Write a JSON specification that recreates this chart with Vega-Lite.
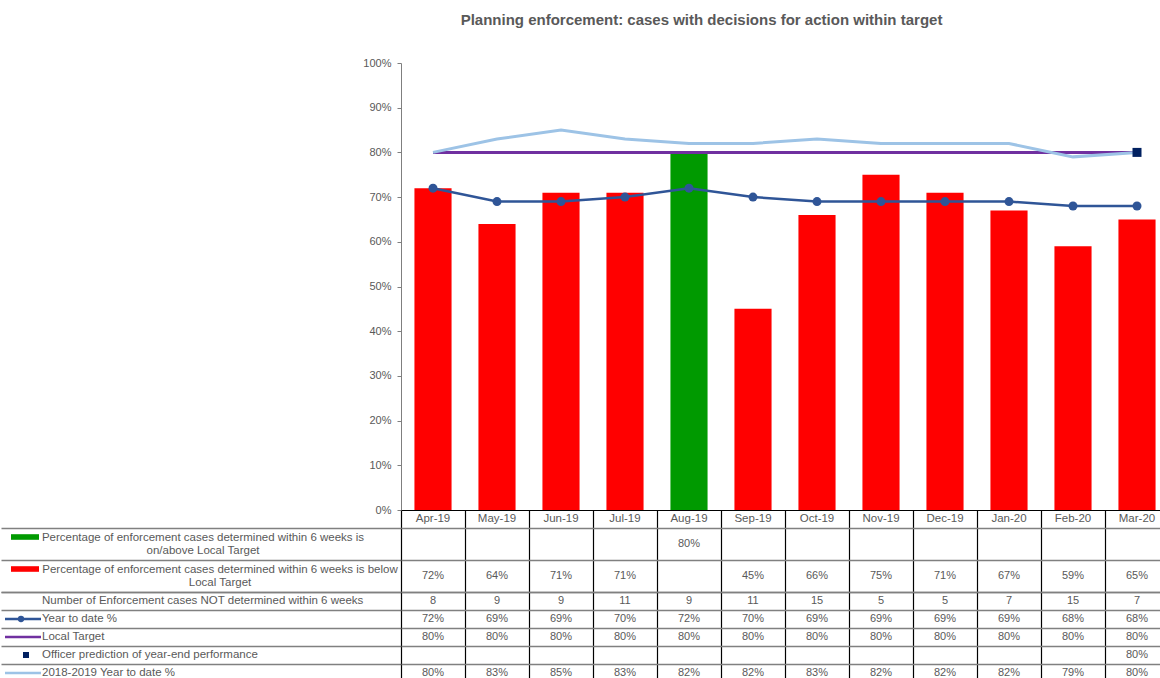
{
  "$schema": "https://vega.github.io/schema/vega-lite/v6.json",
  "padding": {"top": 13, "left": 0, "right": 0, "bottom": 0},
  "background": "white",
  "title": {
    "text": "Planning enforcement: cases with decisions for action within target",
    "fontSize": 15, "fontWeight": "bold", "color": "#595959", "font": "Liberation Sans",
    "anchor": "middle", "dx": 117, "offset": 29
  },
  "config": {
    "view": {"stroke": null},
    "font": "Liberation Sans",
    "text": {"font": "Liberation Sans"}
  },
  "datasets": {
    "months": [
      {"month": "Apr-19", "red": 0.72, "green": null, "nd": 8, "ytd": 0.72, "target": 0.8, "pred": null, "prev": 0.80},
      {"month": "May-19", "red": 0.64, "green": null, "nd": 9, "ytd": 0.69, "target": 0.8, "pred": null, "prev": 0.83},
      {"month": "Jun-19", "red": 0.71, "green": null, "nd": 9, "ytd": 0.69, "target": 0.8, "pred": null, "prev": 0.85},
      {"month": "Jul-19", "red": 0.71, "green": null, "nd": 11, "ytd": 0.70, "target": 0.8, "pred": null, "prev": 0.83},
      {"month": "Aug-19", "red": null, "green": 0.80, "nd": 9, "ytd": 0.72, "target": 0.8, "pred": null, "prev": 0.82},
      {"month": "Sep-19", "red": 0.45, "green": null, "nd": 11, "ytd": 0.70, "target": 0.8, "pred": null, "prev": 0.82},
      {"month": "Oct-19", "red": 0.66, "green": null, "nd": 15, "ytd": 0.69, "target": 0.8, "pred": null, "prev": 0.83},
      {"month": "Nov-19", "red": 0.75, "green": null, "nd": 5, "ytd": 0.69, "target": 0.8, "pred": null, "prev": 0.82},
      {"month": "Dec-19", "red": 0.71, "green": null, "nd": 5, "ytd": 0.69, "target": 0.8, "pred": null, "prev": 0.82},
      {"month": "Jan-20", "red": 0.67, "green": null, "nd": 7, "ytd": 0.69, "target": 0.8, "pred": null, "prev": 0.82},
      {"month": "Feb-20", "red": 0.59, "green": null, "nd": 15, "ytd": 0.68, "target": 0.8, "pred": null, "prev": 0.79},
      {"month": "Mar-20", "red": 0.65, "green": null, "nd": 7, "ytd": 0.68, "target": 0.8, "pred": 0.80, "prev": 0.80}
    ],
    "rowsA": [
      {"row": "green", "label": "Percentage of enforcement cases determined within 6 weeks is\non/above Local Target"},
      {"row": "red", "label": "Percentage of enforcement cases determined within 6 weeks is below\nLocal Target"}
    ],
    "rowsB": [
      {"row": "nd", "label": "Number of Enforcement cases NOT determined within 6 weeks"},
      {"row": "ytd", "label": "Year to date %"},
      {"row": "target", "label": "Local Target"},
      {"row": "pred", "label": "Officer prediction of year-end performance"},
      {"row": "prev", "label": "2018-2019 Year to date %"}
    ]
  },
  "bounds": "flush",
  "spacing": 0,
  "columns": 2,
  "concat": [
    {
      "width": 400, "height": 447,
      "data": {"values": [{}]},
      "mark": {"type": "text", "text": ""}
    },
    {
      "width": 768, "height": 447,
      "data": {"name": "months"},
      "encoding": {
        "x": {
          "field": "month", "type": "ordinal", "title": null,
          "scale": {"type": "band", "paddingInner": 0.42, "paddingOuter": 0.21,
                    "domain": ["Apr-19", "May-19", "Jun-19", "Jul-19", "Aug-19", "Sep-19", "Oct-19", "Nov-19", "Dec-19", "Jan-20", "Feb-20", "Mar-20"]},
          "axis": {"labels": false, "ticks": false, "domainColor": "#000000", "domainWidth": 1}
        }
      },
      "layer": [
        {
          "mark": {"type": "bar", "color": "#FF0000"},
          "encoding": {
            "y": {
              "field": "red", "type": "quantitative", "title": null,
              "scale": {"domain": [0, 1], "nice": false},
              "axis": {
                "values": [0, 0.1, 0.2, 0.3, 0.4, 0.5, 0.6, 0.7, 0.8, 0.9, 1],
                "format": ".0%", "grid": false, "tickSize": 4, "tickColor": "#7f7f7f",
                "domainColor": "#7f7f7f", "labelPadding": 6, "labelColor": "#595959", "labelFontSize": 11
              }
            }
          }
        },
        {
          "mark": {"type": "bar", "color": "#009A00"},
          "encoding": {"y": {"field": "green", "type": "quantitative", "title": null}}
        },
        {
          "mark": {"type": "line", "color": "#7030A0", "strokeWidth": 3},
          "encoding": {"y": {"field": "target", "type": "quantitative", "title": null}}
        },
        {
          "mark": {"type": "line", "color": "#9DC3E6", "strokeWidth": 3},
          "encoding": {"y": {"field": "prev", "type": "quantitative", "title": null}}
        },
        {
          "mark": {"type": "line", "color": "#2F5597", "strokeWidth": 2.5,
                   "point": {"filled": true, "size": 81, "color": "#2F5597"}},
          "encoding": {"y": {"field": "ytd", "type": "quantitative", "title": null}}
        },
        {
          "mark": {"type": "point", "shape": "square", "filled": true, "size": 81, "color": "#002060", "opacity": 1},
          "encoding": {"y": {"field": "pred", "type": "quantitative", "title": null}}
        }
      ]
    },
    {
      "width": 400, "height": 18,
      "data": {"values": [{}]},
      "mark": {"type": "text", "text": ""}
    },
    {
      "width": 768, "height": 18,
      "data": {"name": "months"},
      "mark": {"type": "text", "fontSize": 11.5, "color": "#595959"},
      "encoding": {
        "x": {
          "field": "month", "type": "ordinal", "title": null,
          "scale": {"type": "band", "paddingInner": 0, "paddingOuter": 0,
                    "domain": ["Apr-19", "May-19", "Jun-19", "Jul-19", "Aug-19", "Sep-19", "Oct-19", "Nov-19", "Dec-19", "Jan-20", "Feb-20", "Mar-20"]},
          "axis": {"grid": true, "tickBand": "extent", "gridColor": "#000000", "gridWidth": 1.2,
                   "labels": false, "ticks": false, "domain": false}
        },
        "text": {"field": "month", "type": "nominal"}
      }
    },
    {
      "width": 400, "height": 64,
      "data": {"name": "rowsA"},
      "encoding": {
        "y": {
          "field": "row", "type": "nominal", "title": null,
          "scale": {"type": "band", "domain": ["green", "red"], "paddingInner": 0, "paddingOuter": 0},
          "axis": {"grid": true, "tickBand": "extent", "gridColor": "#808080", "gridWidth": 1.5,
                   "labels": false, "ticks": false, "domain": false}
        }
      },
      "layer": [
        {
          "transform": [{"filter": "datum.row == 'green'"}],
          "mark": {"type": "text", "align": "center", "dx": 2, "dy": -6.5, "lineBreak": "\n", "lineHeight": 13.5,
                   "fontSize": 11.5, "color": "#595959"},
          "encoding": {"text": {"field": "label", "type": "nominal"}}
        },
        {
          "transform": [{"filter": "datum.row == 'red'"}],
          "mark": {"type": "text", "align": "center", "dx": 19, "dy": -6.5, "lineBreak": "\n", "lineHeight": 13.5,
                   "fontSize": 11.5, "color": "#595959"},
          "encoding": {"text": {"field": "label", "type": "nominal"}}
        },
        {
          "transform": [{"filter": "datum.row == 'green'"}],
          "mark": {"type": "point", "shape": "M-1,-0.2H1V0.2H-1Z", "size": 784, "filled": true,
                   "opacity": 1, "strokeWidth": 0, "color": "#009A00", "xOffset": -176, "yOffset": -7}
        },
        {
          "transform": [{"filter": "datum.row == 'red'"}],
          "mark": {"type": "point", "shape": "M-1,-0.2H1V0.2H-1Z", "size": 784, "filled": true,
                   "opacity": 1, "strokeWidth": 0, "color": "#FF0000", "xOffset": -176, "yOffset": -7}
        }
      ]
    },
    {
      "width": 768, "height": 64,
      "data": {"name": "months"},
      "transform": [
        {"fold": ["green", "red"], "as": ["row", "val"]},
        {"filter": "isValid(datum.val)"}
      ],
      "mark": {"type": "text", "fontSize": 11, "color": "#595959"},
      "encoding": {
        "x": {
          "field": "month", "type": "ordinal", "title": null,
          "scale": {"type": "band", "paddingInner": 0, "paddingOuter": 0,
                    "domain": ["Apr-19", "May-19", "Jun-19", "Jul-19", "Aug-19", "Sep-19", "Oct-19", "Nov-19", "Dec-19", "Jan-20", "Feb-20", "Mar-20"]},
          "axis": {"grid": true, "tickBand": "extent", "gridColor": "#000000", "gridWidth": 1.2,
                   "labels": false, "ticks": false, "domain": false}
        },
        "y": {
          "field": "row", "type": "nominal", "title": null,
          "scale": {"type": "band", "domain": ["green", "red"], "paddingInner": 0, "paddingOuter": 0},
          "axis": {"grid": true, "tickBand": "extent", "gridColor": "#808080", "gridWidth": 1.5,
                   "labels": false, "ticks": false, "domain": false}
        },
        "text": {"field": "val", "type": "quantitative", "format": ".0%"}
      }
    },
    {
      "width": 400, "height": 90,
      "data": {"name": "rowsB"},
      "encoding": {
        "y": {
          "field": "row", "type": "nominal", "title": null,
          "scale": {"type": "band", "domain": ["nd", "ytd", "target", "pred", "prev"], "paddingInner": 0, "paddingOuter": 0},
          "axis": {"grid": true, "tickBand": "extent", "gridColor": "#808080", "gridWidth": 1.5,
                   "labels": false, "ticks": false, "domain": false}
        }
      },
      "layer": [
        {
          "mark": {"type": "text", "align": "left", "dx": -159, "fontSize": 11.5, "color": "#595959"},
          "encoding": {"text": {"field": "label", "type": "nominal"}}
        },
        {
          "transform": [{"filter": "datum.row == 'ytd'"}],
          "mark": {"type": "point", "shape": "M-1,0H1", "size": 1296, "filled": false,
                   "opacity": 1, "strokeWidth": 2.5, "color": "#2F5597", "xOffset": -178}
        },
        {
          "transform": [{"filter": "datum.row == 'target'"}],
          "mark": {"type": "point", "shape": "M-1,0H1", "size": 1296, "filled": false,
                   "opacity": 1, "strokeWidth": 2.5, "color": "#7030A0", "xOffset": -178}
        },
        {
          "transform": [{"filter": "datum.row == 'prev'"}],
          "mark": {"type": "point", "shape": "M-1,0H1", "size": 1296, "filled": false,
                   "opacity": 1, "strokeWidth": 2.5, "color": "#9DC3E6", "xOffset": -178}
        },
        {
          "transform": [{"filter": "datum.row == 'ytd'"}],
          "mark": {"type": "point", "shape": "circle", "size": 40, "filled": true,
                   "opacity": 1, "color": "#2F5597", "xOffset": -180}
        },
        {
          "transform": [{"filter": "datum.row == 'pred'"}],
          "mark": {"type": "point", "shape": "square", "size": 36, "filled": true,
                   "opacity": 1, "color": "#002060", "xOffset": -175}
        }
      ]
    },
    {
      "width": 768, "height": 90,
      "data": {"name": "months"},
      "transform": [
        {"fold": ["nd", "ytd", "target", "pred", "prev"], "as": ["row", "val"]},
        {"filter": "isValid(datum.val)"}
      ],
      "encoding": {
        "x": {
          "field": "month", "type": "ordinal", "title": null,
          "scale": {"type": "band", "paddingInner": 0, "paddingOuter": 0,
                    "domain": ["Apr-19", "May-19", "Jun-19", "Jul-19", "Aug-19", "Sep-19", "Oct-19", "Nov-19", "Dec-19", "Jan-20", "Feb-20", "Mar-20"]},
          "axis": {"grid": true, "tickBand": "extent", "gridColor": "#000000", "gridWidth": 1.2,
                   "labels": false, "ticks": false, "domain": false}
        },
        "y": {
          "field": "row", "type": "nominal", "title": null,
          "scale": {"type": "band", "domain": ["nd", "ytd", "target", "pred", "prev"], "paddingInner": 0, "paddingOuter": 0},
          "axis": {"grid": true, "tickBand": "extent", "gridColor": "#808080", "gridWidth": 1.5,
                   "labels": false, "ticks": false, "domain": false}
        }
      },
      "layer": [
        {
          "transform": [{"filter": "datum.row == 'nd'"}],
          "mark": {"type": "text", "fontSize": 11, "color": "#595959"},
          "encoding": {"text": {"field": "val", "type": "quantitative", "format": "d"}}
        },
        {
          "transform": [{"filter": "datum.row != 'nd'"}],
          "mark": {"type": "text", "fontSize": 11, "color": "#595959"},
          "encoding": {"text": {"field": "val", "type": "quantitative", "format": ".0%"}}
        }
      ]
    }
  ]
}
